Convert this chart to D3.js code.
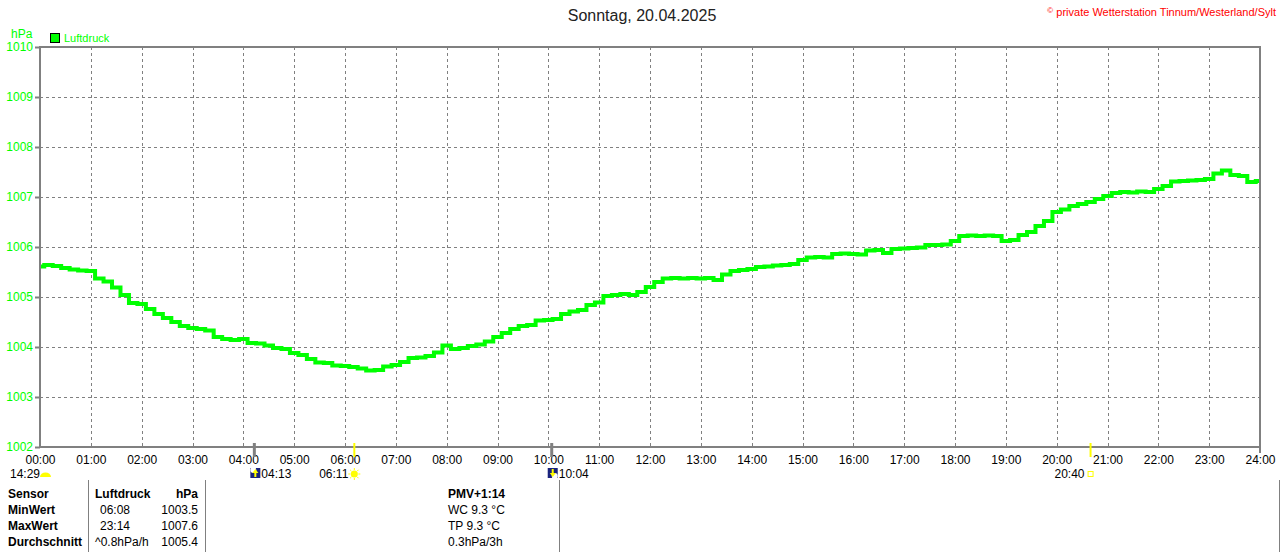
<!DOCTYPE html>
<html><head><meta charset="utf-8">
<script src="https://cdn.jsdelivr.net/npm/d3@7"></script>
<style>
html,body{margin:0;padding:0;background:#fff;}
svg{display:block;font-family:"Liberation Sans",Arial,sans-serif;}
</style></head><body>
<script>
// ---- data ----
const title = "Sonntag, 20.04.2025";
const copyright = "private Wetterstation Tinnum/Westerland/Sylt";
const seriesName = "Luftdruck";
const unit = "hPa";
const stepMinutes = 10; // one reading every 10 minutes, 00:00 .. 24:00
const pressure = [
1005.61,1005.64,1005.62,1005.58,1005.55,1005.53,1005.52,1005.37,1005.31,1005.19,
1005.04,1004.88,1004.86,1004.76,1004.66,1004.58,1004.50,1004.42,1004.38,1004.36,
1004.33,1004.20,1004.16,1004.14,1004.16,1004.08,1004.07,1004.03,1003.98,1003.96,
1003.88,1003.84,1003.76,1003.69,1003.68,1003.63,1003.62,1003.60,1003.57,1003.53,
1003.54,1003.61,1003.64,1003.70,1003.78,1003.79,1003.82,1003.89,1004.03,1003.96,
1003.98,1004.02,1004.05,1004.11,1004.20,1004.28,1004.36,1004.42,1004.44,1004.53,
1004.54,1004.56,1004.66,1004.71,1004.74,1004.84,1004.89,1005.02,1005.04,1005.06,
1005.04,1005.10,1005.20,1005.30,1005.37,1005.38,1005.37,1005.38,1005.37,1005.38,
1005.34,1005.45,1005.52,1005.54,1005.56,1005.60,1005.61,1005.63,1005.64,1005.66,
1005.74,1005.79,1005.80,1005.79,1005.86,1005.87,1005.86,1005.85,1005.93,1005.94,
1005.88,1005.96,1005.97,1005.98,1005.99,1006.04,1006.04,1006.05,1006.12,1006.22,
1006.23,1006.22,1006.23,1006.22,1006.12,1006.14,1006.24,1006.30,1006.42,1006.52,
1006.70,1006.75,1006.82,1006.86,1006.90,1006.96,1007.02,1007.08,1007.10,1007.09,
1007.11,1007.10,1007.16,1007.22,1007.31,1007.32,1007.33,1007.34,1007.36,1007.47,
1007.53,1007.44,1007.42,1007.30,1007.32];
const yTicks = [1002,1003,1004,1005,1006,1007,1008,1009,1010];
const xTickLabels = ["00:00","01:00","02:00","03:00","04:00","05:00","06:00","07:00","08:00","09:00","10:00","11:00","12:00","13:00","14:00","15:00","16:00","17:00","18:00","19:00","20:00","21:00","22:00","23:00","24:00"];
// astronomical events: [label, hour, type]
const events = [["04:13",4+13/60,"moonrise"],["06:11",6+11/60,"sunrise"],["10:04",10+4/60,"moonset"],["20:40",20+40/60,"sunset"]];
const dayLength = "14:29";
const tableHeader = ["Sensor","Luftdruck","hPa"];
const tableRows = [["MinWert","06:08","1003.5"],["MaxWert","23:14","1007.6"],["Durchschnitt","^0.8hPa/h","1005.4"]];
const infoLines = ["PMV+1:14","WC 9.3 °C","TP 9.3 °C","0.3hPa/3h"];

// ---- chart ----
const W=1280,H=552;
const svg=d3.select("body").append("svg").attr("width",W).attr("height",H);
const L=40,R=1260,T=47,B=447;
const x=d3.scaleLinear().domain([0,24]).range([L,R]);
const y=d3.scaleLinear().domain([1002,1010]).range([B,T]);
const green="#00ff00", gridC="#808080";

svg.append("text").attr("x",642).attr("y",21).attr("text-anchor","middle")
  .attr("font-size",16).attr("fill","#222").text(title);
const cp=svg.append("text").attr("x",1276).attr("y",16).attr("text-anchor","end")
  .attr("font-size",11).attr("fill","#ff0000");
cp.append("tspan").attr("font-size",8).attr("dy",-3).text("©");
cp.append("tspan").attr("dy",3).text(" "+copyright);

svg.append("text").attr("x",11).attr("y",38).attr("font-size",12).attr("fill",green).text(unit);
svg.append("rect").attr("x",50.5).attr("y",33.5).attr("width",9).attr("height",9)
  .attr("fill",green).attr("stroke","#000").attr("stroke-width",1);
svg.append("text").attr("x",64).attr("y",42).attr("font-size",11).attr("fill",green).text(seriesName);

// grid
const g=svg.append("g");
g.selectAll("line.hg").data(yTicks.slice(1,-1)).join("line")
  .attr("x1",L).attr("x2",R).attr("y1",d=>Math.round(y(d))+0.5).attr("y2",d=>Math.round(y(d))+0.5)
  .attr("stroke",gridC).attr("stroke-dasharray","3,3");
g.selectAll("line.vg").data(d3.range(1,24)).join("line")
  .attr("y1",T).attr("y2",B).attr("x1",d=>Math.round(x(d))+0.5).attr("x2",d=>Math.round(x(d))+0.5)
  .attr("stroke",gridC).attr("stroke-dasharray","3,3");

// y axis labels via d3 axis
const ya=svg.append("g").attr("transform",`translate(${L},0)`)
  .call(d3.axisLeft(y).tickValues(yTicks).tickFormat(d3.format("d")).tickSize(5).tickPadding(2));
ya.select(".domain").remove();
ya.selectAll("text").attr("fill",green).attr("font-size",12).attr("font-family","Liberation Sans,Arial,sans-serif");
ya.selectAll("line").attr("stroke",gridC).attr("stroke-width",2);

// x axis labels
const xa=svg.append("g").attr("transform",`translate(0,${B})`)
  .call(d3.axisBottom(x).tickValues(d3.range(0,25)).tickFormat((d,i)=>xTickLabels[i]).tickSize(0).tickPadding(8));
xa.select(".domain").remove();
xa.selectAll("text").attr("fill","#000").attr("font-size",12).attr("font-family","Liberation Sans,Arial,sans-serif");

// line
const line=d3.line().x((d,i)=>x(i*stepMinutes/60)).y(d=>y(d)).curve(d3.curveStep);
svg.append("path").datum(pressure).attr("d",line).attr("fill","none")
  .attr("stroke",green).attr("stroke-width",4).attr("stroke-linejoin","miter");

// frame
svg.append("rect").attr("x",L).attr("y",T).attr("width",R-L).attr("height",B-T)
  .attr("fill","none").attr("stroke",gridC).attr("stroke-width",2);
svg.append("line").attr("x1",R).attr("x2",R).attr("y1",B).attr("y2",B+6).attr("stroke",gridC).attr("stroke-width",2);

// events
events.forEach(([lab,h,type])=>{
  const ex=x(h);
  const isSun=type.startsWith("sun");
  svg.append("line").attr("x1",ex).attr("x2",ex).attr("y1",B-4).attr("y2",B+10)
    .attr("stroke",isSun?"#ffff00":gridC).attr("stroke-width",isSun?2:3);
  if(type==="moonrise"||type==="moonset"){
    svg.append("rect").attr("x",ex-4).attr("y",468).attr("width",10).attr("height",10).attr("fill","#1a237e");
    svg.append("circle").attr("cx",ex+(type==="moonrise"?-1:3)).attr("cy",type==="moonrise"?470:476).attr("r",3).attr("fill","#fff");
    const ay=type==="moonrise"?[477,471]:[469,475];
    svg.append("line").attr("x1",ex+1).attr("x2",ex+1).attr("y1",ay[0]).attr("y2",ay[1]).attr("stroke","#ffff00").attr("stroke-width",2);
    svg.append("path").attr("d",`M${ex-2},${ay[1]+(type==="moonrise"?2:-2)} L${ex+1},${ay[1]+(type==="moonrise"?-2:2)} L${ex+4},${ay[1]+(type==="moonrise"?2:-2)}Z`).attr("fill","#ffff00");
    svg.append("text").attr("x",ex+7).attr("y",478).attr("font-size",12).text(lab);
  } else if(type==="sunrise"){
    svg.append("circle").attr("cx",ex).attr("cy",474).attr("r",3.5).attr("fill","#ffff00");
    d3.range(8).forEach(k=>{const a=k*Math.PI/4;
      svg.append("line").attr("x1",ex+Math.cos(a)*4).attr("y1",474+Math.sin(a)*4).attr("x2",ex+Math.cos(a)*6).attr("y2",474+Math.sin(a)*6).attr("stroke","#ffff00");});
    svg.append("text").attr("x",ex-6).attr("y",478).attr("text-anchor","end").attr("font-size",12).text(lab);
  } else {
    svg.append("rect").attr("x",ex-2.5).attr("y",471.5).attr("width",5).attr("height",5).attr("fill","none").attr("stroke","#ffff00");
    svg.append("text").attr("x",ex-6).attr("y",478).attr("text-anchor","end").attr("font-size",12).text(lab);
  }
});
svg.append("text").attr("x",10).attr("y",478).attr("font-size",12).text(dayLength);
svg.append("path").attr("d","M40,477 A5.5,4.5 0 0 1 51,477 Z").attr("fill","#ffff00");

// table
[88,205,559].forEach(vx=>svg.append("line").attr("x1",vx+0.5).attr("x2",vx+0.5).attr("y1",480).attr("y2",H).attr("stroke",gridC));
svg.append("line").attr("x1",1279.5).attr("x2",1279.5).attr("y1",480).attr("y2",H).attr("stroke",gridC);
const rowsY=[498,514,530,546];
const t=svg.append("g").attr("font-size",12).attr("fill","#000");
t.append("text").attr("x",8).attr("y",rowsY[0]).attr("font-weight","bold").text(tableHeader[0]);
t.append("text").attr("x",95).attr("y",rowsY[0]).attr("font-weight","bold").text(tableHeader[1]);
t.append("text").attr("x",198).attr("y",rowsY[0]).attr("text-anchor","end").attr("font-weight","bold").text(tableHeader[2]);
tableRows.forEach((r,i)=>{
  t.append("text").attr("x",8).attr("y",rowsY[i+1]).attr("font-weight","bold").text(r[0]);
  t.append("text").attr("x",r[1].startsWith("^")?95:100).attr("y",rowsY[i+1]).text(r[1]);
  t.append("text").attr("x",198).attr("y",rowsY[i+1]).attr("text-anchor","end").text(r[2]);
});
infoLines.forEach((s,i)=>t.append("text").attr("x",448).attr("y",rowsY[i]).attr("font-weight",i===0?"bold":"normal").text(s));
</script>
</body></html>
